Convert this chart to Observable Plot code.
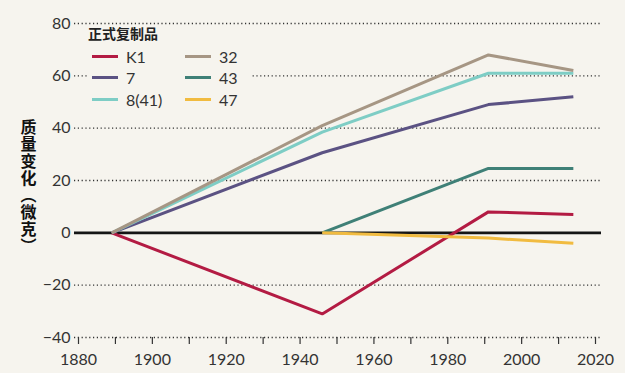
<!DOCTYPE html>
<html>
<head>
<meta charset="utf-8">
<script src="https://cdn.jsdelivr.net/npm/d3@7"></script>
<script src="https://cdn.jsdelivr.net/npm/@observablehq/plot@0.6"></script>
<style>
  html, body { margin: 0; padding: 0; background: #f6f4ee; }
  #wrap { position: relative; width: 625px; height: 373px; }
  #legend { position: absolute; left: 88px; top: 27px; width: 162px; height: 85px; background: #f6f4ee;
            font-family: Lato, "Open Sans", sans-serif; color: #333; }
  #legend .title { position: absolute; left: 0; top: -4px; font: 700 14px "Noto Sans CJK SC", sans-serif; color: #222; }
  #legend .item { position: absolute; height: 20px; display: flex; align-items: center; font-size: 16px; }
  #legend .sw { width: 26px; height: 3px; margin-right: 8px; }
  .ylab text { writing-mode: vertical-rl; letter-spacing: 1px; }
</style>
</head>
<body>
<div id="wrap"><div id="legend"></div></div>
<script>
const years = [1889, 1946, 1991, 2014];
const seriesNames = ["K1", "7", "8(41)", "32", "43", "47"];
const seriesColors = ["#b31b43", "#5b5283", "#7ecdc5", "#a69684", "#3f8077", "#f1bb40"];
const vK1  = [0, -31, 8, 7];
const v7   = [0, 30.6, 49, 52];
const v841 = [0, 38.5, 61, 61];
const v32  = [0, 41, 68, 62];
const v43  = [null, 0, 24.6, 24.6];
const v47  = [null, 0, -2, -4];
const seriesValues = [vK1, v7, v841, v32, v43, v47];
const yTicks = [-40, -20, 0, 20, 40, 60, 80];
const xTicks = [1880, 1890, 1900, 1910, 1920, 1930, 1940, 1950, 1960, 1970, 1980, 1990, 2000, 2010, 2020];
const legendTitle = "正式复制品";
const yLabel = "质量变化（微克）";

const rows = [];
seriesNames.forEach((name, i) => {
  seriesValues[i].forEach((v, j) => {
    if (v !== null) rows.push({series: name, year: years[j], value: v});
  });
});

const bg = "#f6f4ee";

const chart = Plot.plot({
  width: 625,
  height: 373,
  marginLeft: 78,
  marginRight: 30,
  marginTop: 23,
  marginBottom: 36,
  style: {background: bg, fontFamily: "Lato, 'Open Sans', sans-serif", fontSize: "16px", color: "#333"},
  x: {domain: [1880, 2020]},
  y: {domain: [-40, 80]},
  color: {domain: seriesNames, range: seriesColors},
  marks: [
    Plot.ruleY(yTicks.filter(d => d !== 0), {stroke: "#333", strokeWidth: 1.4, strokeDasharray: "1.2,2.6", insetLeft: -4, insetRight: -6}),
    Plot.ruleY([0], {stroke: "#151515", strokeWidth: 2.6, insetLeft: -4, insetRight: -6}),
    Plot.axisY({ticks: yTicks, tickSize: 0, tickPadding: 8, label: null, fontSize: 16, fill: "#333"}),
    Plot.axisX({ticks: xTicks, tickSize: 7, tickPadding: 9, label: null, stroke: "#333", strokeWidth: 1.2,
                tickFormat: d => d % 20 === 0 ? String(d) : "", fontSize: 16, fill: "#333"}),
    Plot.line(rows, {x: "year", y: "value", z: "series", stroke: "series", strokeWidth: 3, strokeLinejoin: "miter", strokeLinecap: "butt"}),
    Plot.text([yLabel], {frameAnchor: "left", dx: -50, dy: -5, textAnchor: "middle", lineAnchor: "top", className: "ylab",
               fontSize: 16, fontWeight: "bold", fill: "#111", fontFamily: "'Noto Sans CJK SC', sans-serif"})
  ]
});
document.getElementById("wrap").prepend(chart);

// legend
const legend = document.getElementById("legend");
const t = document.createElement("div");
t.className = "title";
t.textContent = legendTitle;
legend.appendChild(t);
seriesNames.forEach((name, i) => {
  const col = Math.floor(i / 3), row = i % 3;
  const it = document.createElement("div");
  it.className = "item";
  it.style.left = (4 + col * 93) + "px";
  it.style.top = (19 + row * 21.5) + "px";
  const sw = document.createElement("span");
  sw.className = "sw";
  sw.style.background = seriesColors[i];
  const lb = document.createElement("span");
  lb.textContent = name;
  it.appendChild(sw);
  it.appendChild(lb);
  legend.appendChild(it);
});
</script>
</body>
</html>
